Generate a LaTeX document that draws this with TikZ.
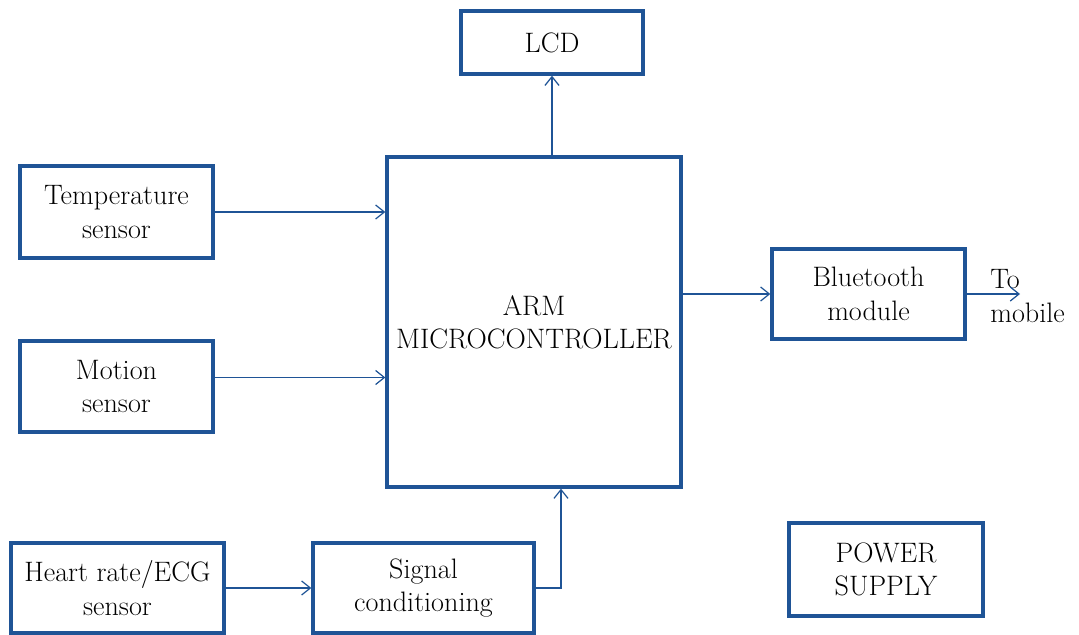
\documentclass[tikz,border=0pt]{standalone}
\usetikzlibrary{arrows.meta}
\definecolor{boxblue}{RGB}{31,84,150}
\begin{document}
\begin{tikzpicture}[x=0.02cm,y=-0.02cm,
    font=\fontsize{16}{19}\selectfont,
    blk/.style={draw=boxblue,line width=1.9pt,fill=white,align=center,inner sep=0pt},
    wire/.style={draw=boxblue,line width=0.7pt},
    tip/.style={-{Straight Barb[length=5pt,width=8pt]}}]
      \useasboundingbox (0,0) rectangle (1079,635);
      \draw
        (552,42.5) node[blk,minimum width=3.64cm,minimum height=1.26cm] (lcd){LCD}
        (534,322) node[blk,minimum width=5.88cm,minimum height=6.6cm] (arm){ARM\\MICROCONTROLLER}
        (116.5,212) node[blk,minimum width=3.86cm,minimum height=1.84cm] (temp){Temperature\\sensor}
        (116.5,386.5) node[blk,minimum width=3.86cm,minimum height=1.82cm] (motion){Motion\\sensor}
        (117.5,588) node[blk,minimum width=4.26cm,minimum height=1.8cm] (heart){Heart rate/ECG\\sensor}
        (423.5,588) node[blk,minimum width=4.42cm,minimum height=1.8cm] (signal){Signal\\conditioning}
        (868.5,294) node[blk,minimum width=3.86cm,minimum height=1.8cm] (bt){Bluetooth\\module}
        (886,569.5) node[blk,minimum width=3.88cm,minimum height=1.86cm] (power){POWER\\SUPPLY}
        (990,296) node[anchor=west,align=left,inner sep=0pt] (mobile){To\\mobile};
      \coordinate (out) at (1020,294);
      \begin{scope}[wire,tip]
        \draw (temp.east) to (temp.east -| arm.west);
        \draw ([yshift=0.18cm]motion.east) to ([yshift=0.18cm]motion.east -| arm.west);
        \draw (heart) to (signal);
        \draw (signal.east) -| ([xshift=0.54cm]arm.south);
        \draw ([xshift=0.36cm]arm.north) to ([xshift=0.36cm]arm.north |- lcd.south);
        \draw (arm.east |- bt.west) to (bt.west);
        \draw (bt.east) to (out);
      \end{scope}
    \end{tikzpicture}
\end{document}
